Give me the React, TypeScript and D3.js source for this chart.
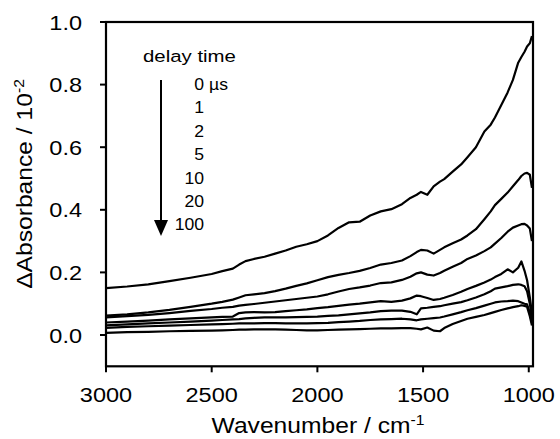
import React from "react";
import * as d3 from "d3";

// ---- data ----
const wavenumbers = [3000, 2900, 2800, 2700, 2600, 2500, 2450, 2400, 2370, 2340, 2300, 2250, 2200, 2150, 2100, 2050, 2000, 1950, 1900, 1850, 1800, 1750, 1700, 1650, 1600, 1560, 1530, 1510, 1480, 1450, 1420, 1400, 1360, 1320, 1290, 1250, 1210, 1180, 1160, 1130, 1100, 1075, 1050, 1035, 1020, 1008, 995, 985];

const delay0us = [0.150, 0.155, 0.162, 0.172, 0.183, 0.195, 0.204, 0.212, 0.225, 0.236, 0.243, 0.250, 0.260, 0.270, 0.282, 0.290, 0.300, 0.318, 0.342, 0.360, 0.362, 0.382, 0.395, 0.402, 0.418, 0.438, 0.448, 0.457, 0.448, 0.475, 0.490, 0.498, 0.522, 0.545, 0.568, 0.600, 0.650, 0.672, 0.695, 0.735, 0.775, 0.815, 0.870, 0.888, 0.905, 0.922, 0.932, 0.955];
const delay1us = [0.062, 0.066, 0.072, 0.080, 0.090, 0.100, 0.106, 0.113, 0.120, 0.127, 0.130, 0.134, 0.140, 0.148, 0.157, 0.165, 0.175, 0.185, 0.192, 0.198, 0.205, 0.214, 0.225, 0.230, 0.238, 0.252, 0.265, 0.272, 0.270, 0.260, 0.272, 0.280, 0.293, 0.305, 0.318, 0.338, 0.370, 0.395, 0.415, 0.435, 0.455, 0.475, 0.495, 0.508, 0.516, 0.518, 0.512, 0.470];
const delay2us = [0.056, 0.060, 0.064, 0.070, 0.077, 0.083, 0.087, 0.090, 0.094, 0.096, 0.099, 0.103, 0.107, 0.111, 0.115, 0.119, 0.123, 0.130, 0.139, 0.147, 0.152, 0.158, 0.166, 0.168, 0.176, 0.186, 0.197, 0.200, 0.193, 0.190, 0.198, 0.205, 0.218, 0.230, 0.243, 0.254, 0.268, 0.280, 0.292, 0.310, 0.330, 0.343, 0.350, 0.354, 0.355, 0.350, 0.340, 0.300];
const delay5us = [0.040, 0.043, 0.046, 0.050, 0.053, 0.056, 0.058, 0.059, 0.070, 0.072, 0.073, 0.072, 0.073, 0.076, 0.079, 0.082, 0.086, 0.089, 0.093, 0.097, 0.100, 0.104, 0.108, 0.106, 0.110, 0.117, 0.126, 0.124, 0.118, 0.112, 0.115, 0.119, 0.128, 0.138, 0.147, 0.157, 0.168, 0.177, 0.185, 0.195, 0.210, 0.200, 0.215, 0.235, 0.205, 0.175, 0.120, 0.070];
const delay10us = [0.031, 0.034, 0.037, 0.040, 0.043, 0.046, 0.048, 0.050, 0.051, 0.053, 0.055, 0.056, 0.056, 0.056, 0.057, 0.058, 0.059, 0.061, 0.063, 0.066, 0.069, 0.072, 0.076, 0.078, 0.078, 0.074, 0.066, 0.085, 0.087, 0.090, 0.092, 0.095, 0.100, 0.105, 0.111, 0.120, 0.130, 0.140, 0.148, 0.152, 0.156, 0.160, 0.162, 0.160, 0.156, 0.140, 0.100, 0.050];
const delay20us = [0.023, 0.026, 0.028, 0.030, 0.032, 0.034, 0.035, 0.036, 0.037, 0.037, 0.037, 0.038, 0.038, 0.037, 0.037, 0.037, 0.038, 0.039, 0.041, 0.043, 0.045, 0.048, 0.050, 0.051, 0.052, 0.050, 0.047, 0.050, 0.052, 0.054, 0.056, 0.059, 0.066, 0.073, 0.079, 0.086, 0.094, 0.100, 0.104, 0.107, 0.108, 0.110, 0.108, 0.104, 0.100, 0.098, 0.070, 0.040];
const delay100us = [0.007, 0.009, 0.010, 0.012, 0.013, 0.014, 0.015, 0.016, 0.017, 0.017, 0.018, 0.018, 0.018, 0.017, 0.016, 0.015, 0.015, 0.016, 0.017, 0.018, 0.019, 0.020, 0.021, 0.021, 0.022, 0.022, 0.020, 0.018, 0.024, 0.014, 0.012, 0.022, 0.035, 0.045, 0.052, 0.058, 0.064, 0.070, 0.074, 0.080, 0.085, 0.089, 0.092, 0.095, 0.093, 0.090, 0.060, 0.030];

const seriesList = [delay0us, delay1us, delay2us, delay5us, delay10us, delay20us, delay100us];
const legendLabels = ["0", "1", "2", "5", "10", "20", "100"];
const xTicks = [3000, 2500, 2000, 1500, 1000];
const yTicks = [0.0, 0.2, 0.4, 0.6, 0.8, 1.0];

const FONT = "'Liberation Sans', Arial, Helvetica, sans-serif";

function T(props: any) {
  const { x, y, size, anchor = "start", sx = 1.12, rotate = 0, children } = props;
  return (
    <text
      transform={`translate(${x},${y}) rotate(${rotate}) scale(${sx},1)`}
      fontSize={size}
      fontFamily={FONT}
      textAnchor={anchor}
      fill="#000"
    >
      {children}
    </text>
  );
}

export default function App() {
  const W = 560, H = 439;
  const left = 106, right = 533, top = 22, zeroY = 335;
  const x = d3.scaleLinear().domain([3000, 980]).range([left, right]);
  const y = d3.scaleLinear().domain([0, 1]).range([zeroY, top]);
  const bottom = y(-0.1);

  const line = d3
    .line<number>()
    .x((_, i) => x(wavenumbers[i]))
    .y((d) => y(d))
    .curve(d3.curveLinear);

  const legX = 204;
  const legBase = 90;
  const legStep = 23.4;

  return (
    <svg
      width={W}
      height={H}
      style={{ position: "absolute", left: 0, top: 0, background: "#fff" }}
    >
      <rect x={0} y={0} width={W} height={H} fill="#fff" />
      {/* curves */}
      {seriesList.map((s, i) => (
        <path
          key={i}
          d={line(s) || ""}
          fill="none"
          stroke="#000"
          strokeWidth={2.2}
          strokeLinejoin="round"
        />
      ))}
      {/* frame */}
      <rect
        x={left}
        y={top}
        width={right - left}
        height={bottom - top}
        fill="none"
        stroke="#000"
        strokeWidth={2.2}
      />
      {/* y ticks */}
      {yTicks.map((v) => (
        <g key={v}>
          <line x1={left - 6} x2={left} y1={y(v)} y2={y(v)} stroke="#000" strokeWidth={2} />
          <T x={82} y={y(v) + 7.5} size={21} anchor="end">
            {v.toFixed(1)}
          </T>
        </g>
      ))}
      {/* x ticks */}
      {xTicks.map((v) => (
        <g key={v}>
          <line x1={x(v)} x2={x(v)} y1={bottom} y2={bottom + 6} stroke="#000" strokeWidth={2} />
          <T x={x(v)} y={402} size={21} anchor="middle">
            {String(v)}
          </T>
        </g>
      ))}
      {/* axis titles */}
      <T x={318} y={433} size={22} anchor="middle" sx={1.12}>
        Wavenumber / cm
        <tspan fontSize={14} dy={-8}>-1</tspan>
      </T>
      <T x={31.5} y={184} size={22} anchor="middle" sx={1.12} rotate={-90}>
        ΔAbsorbance / 10
        <tspan fontSize={14} dy={-8}>-2</tspan>
      </T>
      {/* legend */}
      <T x={143} y={62} size={17} sx={1.2}>
        delay time
      </T>
      {legendLabels.map((lab, i) => (
        <T key={lab} x={legX} y={legBase + i * legStep} size={16} anchor="end" sx={1.1}>
          {lab}
        </T>
      ))}
      <T x={209} y={legBase} size={16} sx={1.1}>
        µs
      </T>
      <line x1={161} x2={161} y1={80} y2={222} stroke="#000" strokeWidth={2} />
      <polygon points="154,220 168,220 161,236" fill="#000" />
    </svg>
  );
}
